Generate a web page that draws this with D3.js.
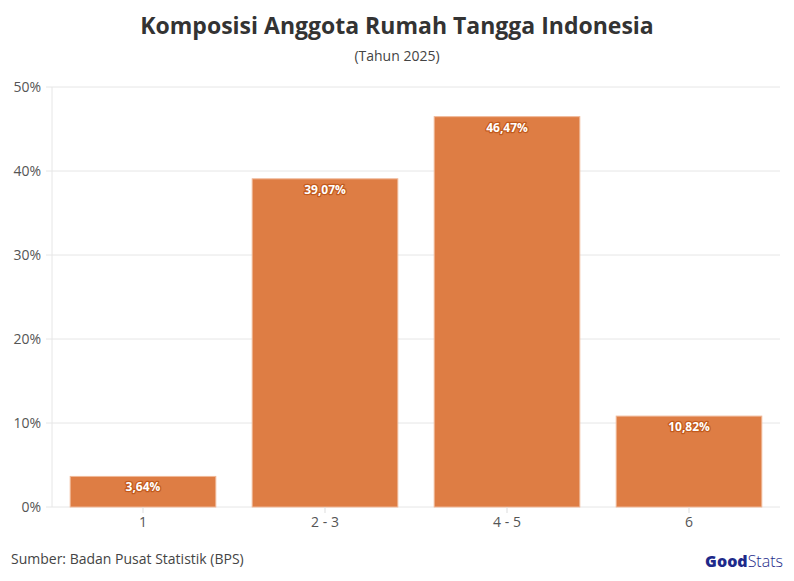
<!DOCTYPE html>
<html><head><meta charset="utf-8">
<script src="https://cdn.jsdelivr.net/npm/d3@7"></script>
<style>body{margin:0;background:#fff;font-family:"Open Sans",sans-serif}</style>
</head><body><svg id="c" width="794" height="581"></svg>
<script>
const categories = ['1', '2 - 3', '4 - 5', '6'];
const values = [3.64, 39.07, 46.47, 10.82];
const yTicks = [0, 10, 20, 30, 40, 50];

const svg = d3.select('#c');
const m = {l: 52, r: 780, t: 87, b: 507};
const x = d3.scaleBand().domain(categories).range([m.l, m.r]).paddingInner(0.2).paddingOuter(0.1);
const y = d3.scaleLinear().domain([0, 50]).range([m.b, m.t]);

svg.append('text').attr('x', 397).attr('y', 34).attr('text-anchor', 'middle')
  .attr('font-size', 23).attr('font-weight', 700).attr('fill', '#333').text('Komposisi Anggota Rumah Tangga Indonesia');
svg.append('text').attr('x', 397).attr('y', 61).attr('text-anchor', 'middle')
  .attr('font-size', 14).attr('fill', '#444').text('(Tahun 2025)');

// grid
svg.append('g').selectAll('line').data(yTicks).join('line')
  .attr('x1', m.l - 6).attr('x2', m.r).attr('y1', d => y(d)).attr('y2', d => y(d))
  .attr('stroke', '#e6e6e6');
svg.append('line').attr('x1', m.l).attr('x2', m.l).attr('y1', m.t).attr('y2', m.b).attr('stroke', '#e6e6e6');
svg.append('g').selectAll('text').data(yTicks).join('text')
  .attr('x', 41).attr('y', d => y(d) + 5).attr('text-anchor', 'end')
  .attr('font-size', 14).attr('fill', '#555').text(d => d + '%');

svg.append('g').selectAll('rect').data(values).join('rect')
  .attr('x', (d, i) => x(categories[i])).attr('width', x.bandwidth())
  .attr('y', d => y(d)).attr('height', d => y(0) - y(d))
  .attr('fill', '#de7d44').attr('stroke', '#f0b898').attr('stroke-width', 1);

svg.append('g').selectAll('text').data(values).join('text')
  .attr('x', (d, i) => x(categories[i]) + x.bandwidth() / 2).attr('y', d => y(d) + 15)
  .attr('text-anchor', 'middle').attr('font-size', 12).attr('font-weight', 700)
  .attr('fill', '#fff').attr('stroke', '#c25a1c').attr('stroke-width', 2.5).attr('paint-order', 'stroke')
  .attr('stroke-linejoin', 'round')
  .text(d => d.toFixed(2).replace('.', ',') + '%');

svg.append('g').selectAll('line').data(categories).join('line')
  .attr('x1', d => x(d) + x.bandwidth() / 2).attr('x2', d => x(d) + x.bandwidth() / 2)
  .attr('y1', m.b).attr('y2', m.b + 6).attr('stroke', '#ddd');
svg.append('g').selectAll('text').data(categories).join('text')
  .attr('x', d => x(d) + x.bandwidth() / 2).attr('y', 527).attr('text-anchor', 'middle')
  .attr('font-size', 14).attr('fill', '#555').text(d => d);

svg.append('text').attr('x', 11).attr('y', 564).attr('font-size', 14).attr('fill', '#444')
  .text('Sumber: Badan Pusat Statistik (BPS)');
const logo = svg.append('text').attr('x', 783).attr('y', 567).attr('text-anchor', 'end')
  .attr('font-size', 16).attr('fill', '#1e2a8a');
logo.append('tspan').attr('font-weight', 800).text('Good');
logo.append('tspan').attr('font-weight', 300).text('Stats');
</script></body></html>
